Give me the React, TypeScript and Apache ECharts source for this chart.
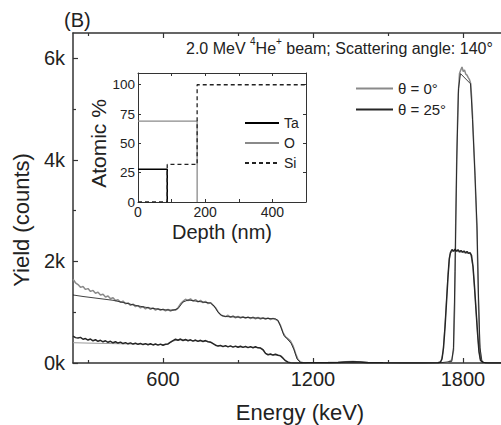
import React, { useEffect, useRef } from 'react';
import * as echarts from 'echarts';

// ---------- main spectrum data (Energy keV -> Yield counts) ----------
const scanEnergy = [
  240, 250, 260, 270, 280, 290, 300, 310, 320, 330, 340, 350, 360, 370, 380, 390,
  400, 410, 420, 430, 440, 450, 460, 470, 480, 490, 500, 510, 520, 530, 540, 550,
  560, 570, 580, 590, 600, 610, 620, 630, 640, 650, 660, 670, 680, 690, 700, 710,
  720, 730, 740, 750, 760, 770, 780, 790, 800, 810, 820, 830, 840, 850, 860, 870,
  880, 890, 900, 910, 920, 930, 940, 950, 960, 970, 980, 990, 1000, 1010, 1020, 1030,
  1040, 1050, 1060, 1070, 1080, 1090, 1100, 1110, 1120, 1130, 1140, 1150, 1160,
];
const yield0Scan = [
  1650, 1580, 1545, 1490, 1505, 1450, 1465, 1410, 1430, 1375, 1395, 1340, 1355, 1300, 1320, 1265,
  1285, 1230, 1245, 1195, 1220, 1165, 1185, 1135, 1160, 1110, 1130, 1085, 1110, 1065, 1095, 1055,
  1085, 1040, 1070, 1035, 1060, 1025, 1055, 1020, 1050, 1040, 1090, 1165, 1215, 1255, 1230, 1265,
  1220, 1250, 1205, 1235, 1190, 1215, 1170, 1190, 1140, 1090, 1010, 950, 925, 915, 940, 900,
  930, 890, 920, 885, 915, 880, 910, 875, 905, 870, 900, 865, 895, 860, 890, 855,
  880, 860, 830, 740, 600, 515, 475, 430, 340, 190, 70, 20, 5,
];
const yield25Scan = [
  530, 500, 492, 505, 468, 482, 452, 472, 438, 458, 428, 447, 418, 437, 408, 428,
  398, 418, 393, 412, 383, 402, 378, 397, 373, 392, 368, 387, 363, 382, 360, 380,
  356, 374, 353, 372, 350, 370, 376, 410, 442, 468, 448, 472, 443, 464, 438, 457,
  430, 452, 426, 447, 423, 442, 418, 410, 380, 350, 333, 347, 323, 342, 318, 337,
  313, 332, 310, 330, 308, 327, 303, 322, 300, 320, 298, 295, 260, 190, 163, 177,
  156, 172, 153, 140, 95, 45, 15, 5, 0, 0, 0, 0, 0,
];
const tailEnergy = [1180, 1220, 1260, 1300, 1330, 1360, 1390, 1420, 1480, 1560, 1640, 1700];
const yield0Tail = [4, 6, 8, 12, 24, 30, 22, 8, 4, 3, 3, 5];
const yield25Tail = [3, 5, 7, 10, 20, 26, 18, 6, 3, 2, 2, 5];

const peak0Energy = [
  1740, 1755, 1762, 1767, 1771, 1776, 1781, 1786, 1791, 1796, 1801, 1806, 1811, 1816, 1821,
  1826, 1831, 1836, 1842, 1848, 1856, 1861, 1866, 1872, 1880, 1900, 2000,
];
const yield0Peak = [
  10, 60, 250, 1200, 2800, 4300, 5300, 5700, 5770, 5830, 5740, 5770, 5690, 5670, 5620,
  5580, 5500, 5100, 4400, 3700, 2600, 1400, 400, 60, 10, 0, 0,
];
const peak25Energy = [
  1710, 1716, 1722, 1728, 1734, 1740, 1745, 1750, 1756, 1762, 1768, 1774, 1780, 1786, 1792,
  1798, 1804, 1810, 1816, 1822, 1828, 1834, 1840, 1846, 1852, 1858, 1864, 1870, 1880, 1900, 2000,
];
const yield25Peak = [
  20, 80, 300, 700, 1200, 1700, 2050, 2180, 2235, 2200, 2240, 2205, 2230, 2190, 2215,
  2185, 2205, 2170, 2195, 2160, 2175, 2120, 1900, 1500, 1050, 600, 220, 50, 10, 0, 0,
];

// simulated (fit) curves
const fit0Energy = [
  240, 280, 320, 360, 400, 450, 500, 550, 600, 640, 660, 680, 700, 790, 805, 820, 835, 850,
  1050, 1060, 1072, 1084, 1096, 1112, 1124, 1136, 1150, 1170, 1700, 1755, 1762, 1768, 1775,
  1782, 1790, 1830, 1838, 1848, 1856, 1862, 1868, 1876, 1890, 2000,
];
const fit0Yield = [
  1340, 1310, 1285, 1260, 1235, 1180, 1125, 1080, 1050, 1040, 1070, 1200, 1240, 1180, 1120, 1000, 935, 915,
  870, 840, 700, 540, 480, 390, 260, 80, 10, 0, 0, 30, 300, 1800, 4000,
  5400, 5700, 5500, 4800, 3700, 2700, 1300, 300, 30, 0, 0,
];
const fit25Energy = [
  240, 300, 400, 500, 600, 620, 640, 660, 790, 805, 820, 990, 1000, 1010, 1020, 1070, 1080,
  1092, 1110, 1700, 1712, 1720, 1730, 1740, 1748, 1760, 1830, 1840, 1850, 1860, 1868, 1880, 2000,
];
const fit25Yield = [
  400, 392, 382, 372, 360, 372, 432, 455, 420, 370, 335, 300, 270, 190, 165, 150, 100,
  30, 0, 0, 30, 200, 900, 1750, 2150, 2210, 2150, 1900, 1200, 450, 80, 0, 0,
];

// ---------- inset: composition profile (Depth nm -> Atomic %) ----------
const depthTa = [0, 87, 87];
const atomicTa = [28, 28, 0];
const depthO = [0, 176, 176];
const atomicO = [69, 69, 0];
const depthSi = [0, 87, 87, 176, 176, 500];
const atomicSi = [0, 0, 32, 32, 100, 100];

// tick labels
const energyMajor = [600, 1200, 1800];
const energyMinor = [300, 900, 1500];
const yieldMajor = [0, 2000, 4000, 6000];
const yieldMinor = [1000, 3000, 5000];
const depthLabels = [0, 200, 400];
const depthTicks = [100, 200, 300, 400];
const atomicLabels = [0, 25, 50, 75, 100];
const atomicTicks = [25, 50, 75, 100];

const FONT = '"Liberation Sans", Arial, Helvetica, sans-serif';
const TXT = '#222';
const AX = '#333';

const pairs = (xs: number[], ys: number[]) => xs.map((x, i) => [x, ys[i]]);
const plain = (v: number) => String(v);

function mainX(position: string, ticks: number[], len: number, labels: boolean, line: boolean, extra: any = {}) {
  return {
    type: 'value', gridIndex: 0, position, min: 240, max: 2000,
    axisLine: { show: line, onZero: false, lineStyle: { color: AX, width: 1.5 } },
    axisTick: { show: true, inside: true, length: len, customValues: ticks, lineStyle: { color: AX, width: 1.2 } },
    axisLabel: labels
      ? { show: true, customValues: energyMajor, formatter: plain, fontSize: 20, margin: 6, color: TXT, fontFamily: FONT }
      : { show: false },
    splitLine: { show: false },
    ...extra,
  };
}

export default function App() {
  const ref = useRef<HTMLDivElement>(null);
  useEffect(() => {
    const chart = echarts.init(ref.current!, null, { renderer: 'svg' });
    const option: any = {
      animation: false,
      backgroundColor: '#fff',
      title: [
        {
          text: '(B)', left: 64, top: 10, padding: 0,
          textStyle: { fontSize: 20, fontWeight: 'normal', fontFamily: FONT, color: TXT },
        },
        {
          text: '{n|2.0 MeV }{s|4}{n|He}{s|+}{n| beam; Scattering angle: 140°}',
          left: 186, top: 36, padding: 0,
          textStyle: {
            fontFamily: FONT, color: TXT, fontWeight: 'normal',
            rich: {
              n: { fontSize: 16, lineHeight: 24, fontFamily: FONT, color: TXT },
              s: { fontSize: 10, lineHeight: 10, verticalAlign: 'top', fontFamily: FONT, color: TXT },
            },
          },
        },
      ],
      legend: [
        {
          data: ['θ = 0°', 'θ = 25°'], orient: 'vertical', left: 355, top: 81,
          itemWidth: 37, itemHeight: 14, itemGap: 6, padding: 0,
          itemStyle: { opacity: 0 },
          textStyle: { fontSize: 15, fontFamily: FONT, color: TXT },
        },
        {
          data: ['Ta', 'O', 'Si'], orient: 'vertical', left: 244, top: 116,
          itemWidth: 34, itemHeight: 12, itemGap: 6, padding: 0,
          itemStyle: { opacity: 0 },
          textStyle: { fontSize: 14, fontFamily: FONT, color: TXT },
        },
      ],
      grid: [
        { left: 73, top: 33, width: 440, height: 330, outerBoundsMode: 'none', containLabel: false },
        {
          left: 138, top: 73, width: 168, height: 129, outerBoundsMode: 'none', containLabel: false,
          show: true, backgroundColor: '#fff', borderWidth: 0,
        },
      ],
      xAxis: [
        mainX('bottom', energyMajor, 5, true, true, {
          name: 'Energy (keV)', nameLocation: 'middle', nameGap: 38,
          nameTextStyle: { fontSize: 22, fontFamily: FONT, color: TXT, padding: [0, 0, 0, 14] },
        }),
        mainX('bottom', energyMinor, 3, false, false),
        mainX('top', energyMajor, 5, false, true),
        mainX('top', energyMinor, 3, false, false),
        {
          type: 'value', gridIndex: 1, position: 'bottom', min: 0, max: 500,
          axisLine: { show: true, onZero: false, lineStyle: { color: AX, width: 1 } },
          axisTick: { show: true, inside: true, length: 3, customValues: depthTicks, lineStyle: { color: AX } },
          axisLabel: { show: true, customValues: depthLabels, formatter: plain, fontSize: 14, margin: 3, color: TXT, fontFamily: FONT },
          splitLine: { show: false },
          name: 'Depth (nm)', nameLocation: 'middle', nameGap: 20,
          nameTextStyle: { fontSize: 20, fontFamily: FONT, color: TXT },
        },
        {
          type: 'value', gridIndex: 1, position: 'top', min: 0, max: 500,
          axisLine: { show: true, onZero: false, lineStyle: { color: AX, width: 1 } },
          axisTick: { show: true, inside: true, length: 3, customValues: depthTicks, lineStyle: { color: AX } },
          axisLabel: { show: false }, splitLine: { show: false },
        },
      ],
      yAxis: [
        {
          type: 'value', gridIndex: 0, position: 'left', min: 0, max: 6500,
          axisLine: { show: true, onZero: false, lineStyle: { color: AX, width: 1.5 } },
          axisTick: { show: true, inside: true, length: 5, customValues: yieldMajor, lineStyle: { color: AX, width: 1.2 } },
          axisLabel: {
            show: true, customValues: yieldMajor, fontSize: 20, margin: 8, color: TXT, fontFamily: FONT,
            formatter: (v: number) => `${v / 1000}k`,
          },
          splitLine: { show: false },
          name: 'Yield (counts)', nameLocation: 'middle', nameGap: 40,
          nameTextStyle: { fontSize: 22, fontFamily: FONT, color: TXT, padding: [0, 44, 0, 0] },
        },
        {
          type: 'value', gridIndex: 0, position: 'left', min: 0, max: 6500,
          axisLine: { show: false },
          axisTick: { show: true, inside: true, length: 3, customValues: yieldMinor, lineStyle: { color: AX, width: 1.2 } },
          axisLabel: { show: false }, splitLine: { show: false },
        },
        {
          type: 'value', gridIndex: 1, position: 'left', min: 0, max: 110,
          axisLine: { show: true, onZero: false, lineStyle: { color: AX, width: 1 } },
          axisTick: { show: true, inside: true, length: 3, customValues: atomicTicks, lineStyle: { color: AX } },
          axisLabel: { show: true, customValues: atomicLabels, formatter: plain, fontSize: 13.5, margin: 3, color: TXT, fontFamily: FONT },
          splitLine: { show: false },
          name: 'Atomic %', nameLocation: 'middle', nameGap: 18,
          nameTextStyle: { fontSize: 21, fontFamily: FONT, color: TXT, padding: [0, 12, 0, 0] },
        },
        {
          type: 'value', gridIndex: 1, position: 'right', min: 0, max: 110,
          axisLine: { show: true, onZero: false, lineStyle: { color: AX, width: 1 } },
          axisTick: { show: true, inside: true, length: 3, customValues: atomicTicks, lineStyle: { color: AX } },
          axisLabel: { show: false }, splitLine: { show: false },
        },
      ],
      series: [
        {
          name: 'fit 25', type: 'line', xAxisIndex: 0, yAxisIndex: 0, symbol: 'none',
          lineStyle: { color: '#9a9a9a', width: 1 }, data: pairs(fit25Energy, fit25Yield),
        },
        {
          name: 'θ = 0°', type: 'line', xAxisIndex: 0, yAxisIndex: 0, symbol: 'none',
          lineStyle: { color: '#8a8a8a', width: 1.5 }, itemStyle: { color: '#8a8a8a' },
          data: [
            ...pairs(scanEnergy, yield0Scan),
            ...pairs(tailEnergy, yield0Tail),
            ...pairs(peak0Energy, yield0Peak),
          ],
        },
        {
          name: 'θ = 25°', type: 'line', xAxisIndex: 0, yAxisIndex: 0, symbol: 'none',
          lineStyle: { color: '#262626', width: 1.5 }, itemStyle: { color: '#262626' },
          data: [
            ...pairs(scanEnergy, yield25Scan),
            ...pairs(tailEnergy, yield25Tail),
            ...pairs(peak25Energy, yield25Peak),
          ],
        },
        {
          name: 'fit 0', type: 'line', xAxisIndex: 0, yAxisIndex: 0, symbol: 'none',
          lineStyle: { color: '#111', width: 0.8 }, data: pairs(fit0Energy, fit0Yield),
        },
        {
          name: 'Ta', type: 'line', xAxisIndex: 4, yAxisIndex: 2, symbol: 'none',
          lineStyle: { color: '#000', width: 1.5 }, itemStyle: { color: '#000' },
          data: pairs(depthTa, atomicTa),
        },
        {
          name: 'O', type: 'line', xAxisIndex: 4, yAxisIndex: 2, symbol: 'none',
          lineStyle: { color: '#8a8a8a', width: 1.3 }, itemStyle: { color: '#8a8a8a' },
          data: pairs(depthO, atomicO),
        },
        {
          name: 'Si', type: 'line', xAxisIndex: 4, yAxisIndex: 2, symbol: 'none',
          lineStyle: { color: '#222', width: 1.3, type: [4, 3] }, itemStyle: { color: '#222' },
          data: pairs(depthSi, atomicSi),
        },
      ],
    };
    chart.setOption(option);
    return () => chart.dispose();
  }, []);
  return <div ref={ref} style={{ position: 'absolute', left: 0, top: 0, width: 501, height: 425 }} />;
}
